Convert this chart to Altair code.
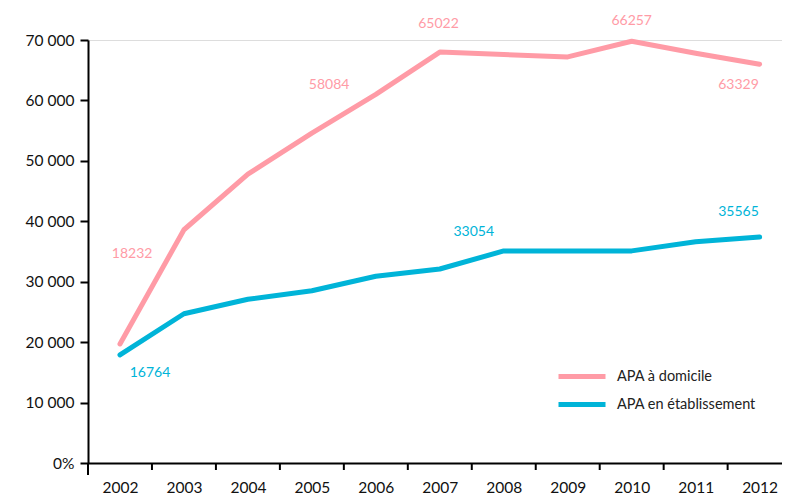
import altair as alt
import pandas as pd

years = [2002, 2003, 2004, 2005, 2006, 2007, 2008, 2009, 2010, 2011, 2012]
domicile = [19700, 38600, 47800, 54600, 61000, 68000, 67600, 67200, 69800, 67800, 66000]
etablissement = [17900, 24700, 27100, 28500, 30900, 32100, 35100, 35100, 35100, 36600, 37400]
series_names = ["APA à domicile", "APA en établissement"]
series_colors = ["#ff9ba6", "#00b4d8"]

label_text = ["18232", "58084", "65022", "66257", "63329", "16764", "33054", "35565"]
label_series = [series_names[0]] * 5 + [series_names[1]] * 3
label_year = [2002.19, 2005.27, 2006.98, 2010.0, 2011.67, 2002.47, 2007.53, 2011.67]
label_value = [34600, 62500, 72600, 73200, 62500, 14900, 38200, 41500]

y_ticks = [0, 10000, 20000, 30000, 40000, 50000, 60000, 70000]
x_boundaries = [2002.5, 2003.5, 2004.5, 2005.5, 2006.5, 2007.5, 2008.5, 2009.5, 2010.5, 2011.5]

lines_df = pd.DataFrame({
    "year": years * 2,
    "value": domicile + etablissement,
    "series": [series_names[0]] * len(years) + [series_names[1]] * len(years),
})
labels_df = pd.DataFrame({
    "text": label_text, "series": label_series,
    "year": label_year, "value": label_value,
})
bounds_df = pd.DataFrame({"year": x_boundaries})

FONT = "Lato"
xscale = alt.Scale(domain=[2001.5, 2012.35], nice=False, zero=False)
yscale = alt.Scale(domain=[0, 70000], nice=False)
color = alt.Color(
    "series:N",
    scale=alt.Scale(domain=series_names, range=series_colors),
    legend=alt.Legend(
        title=None, orient="none", legendX=468, legendY=329,
        symbolType="stroke", symbolSize=2209, symbolStrokeWidth=5,
        labelFont=FONT, labelFontSize=14.5, labelColor="#222222",
        labelOffset=9, rowPadding=12, clipHeight=15,
    ),
)

lines = alt.Chart(lines_df).mark_line(strokeWidth=5, strokeCap="round", strokeJoin="round").encode(
    x=alt.X("year:Q", scale=xscale,
            axis=alt.Axis(values=years, format="d", title=None, ticks=False, domain=True,
                          domainColor="black", domainWidth=2, grid=False,
                          labelFont=FONT, labelFontSize=15.5, labelColor="#111111",
                          labelPadding=17, labelFlush=False)),
    y=alt.Y("value:Q", scale=yscale,
            axis=alt.Axis(values=y_ticks, title=None, grid=False, domainColor="black",
                          domainWidth=2, tickColor="black", tickWidth=2, tickSize=8,
                          labelFont=FONT, labelFontSize=15.5, labelColor="#111111",
                          labelPadding=6,
                          labelExpr="datum.value == 0 ? '0%' : replace(format(datum.value, ','), ',', ' ')")),
    color=color,
)

ticks = alt.Chart(bounds_df).mark_rule(color="black", strokeWidth=2).encode(
    x=alt.X("year:Q", scale=xscale),
    y=alt.value(423), y2=alt.value(430),
)

yext = alt.Chart(pd.DataFrame({"year": [2001.5]})).mark_rule(color="black", strokeWidth=2).encode(
    x=alt.X("year:Q", scale=xscale),
    y=alt.value(423), y2=alt.value(435),
)

texts = alt.Chart(labels_df).mark_text(font=FONT, fontSize=14, clip=False).encode(
    x=alt.X("year:Q", scale=xscale),
    y=alt.Y("value:Q", scale=yscale),
    text="text:N",
    color=alt.Color("series:N", scale=alt.Scale(domain=series_names, range=series_colors), legend=None),
)

chart = alt.layer(lines, ticks, yext, texts).properties(
    width=694, height=423,
    padding={"left": 17, "top": 5, "right": 0, "bottom": 5},
).configure_view(stroke=None).configure(background="white")

chart.save("out.html", embed_options={"renderer": "svg", "actions": False})
